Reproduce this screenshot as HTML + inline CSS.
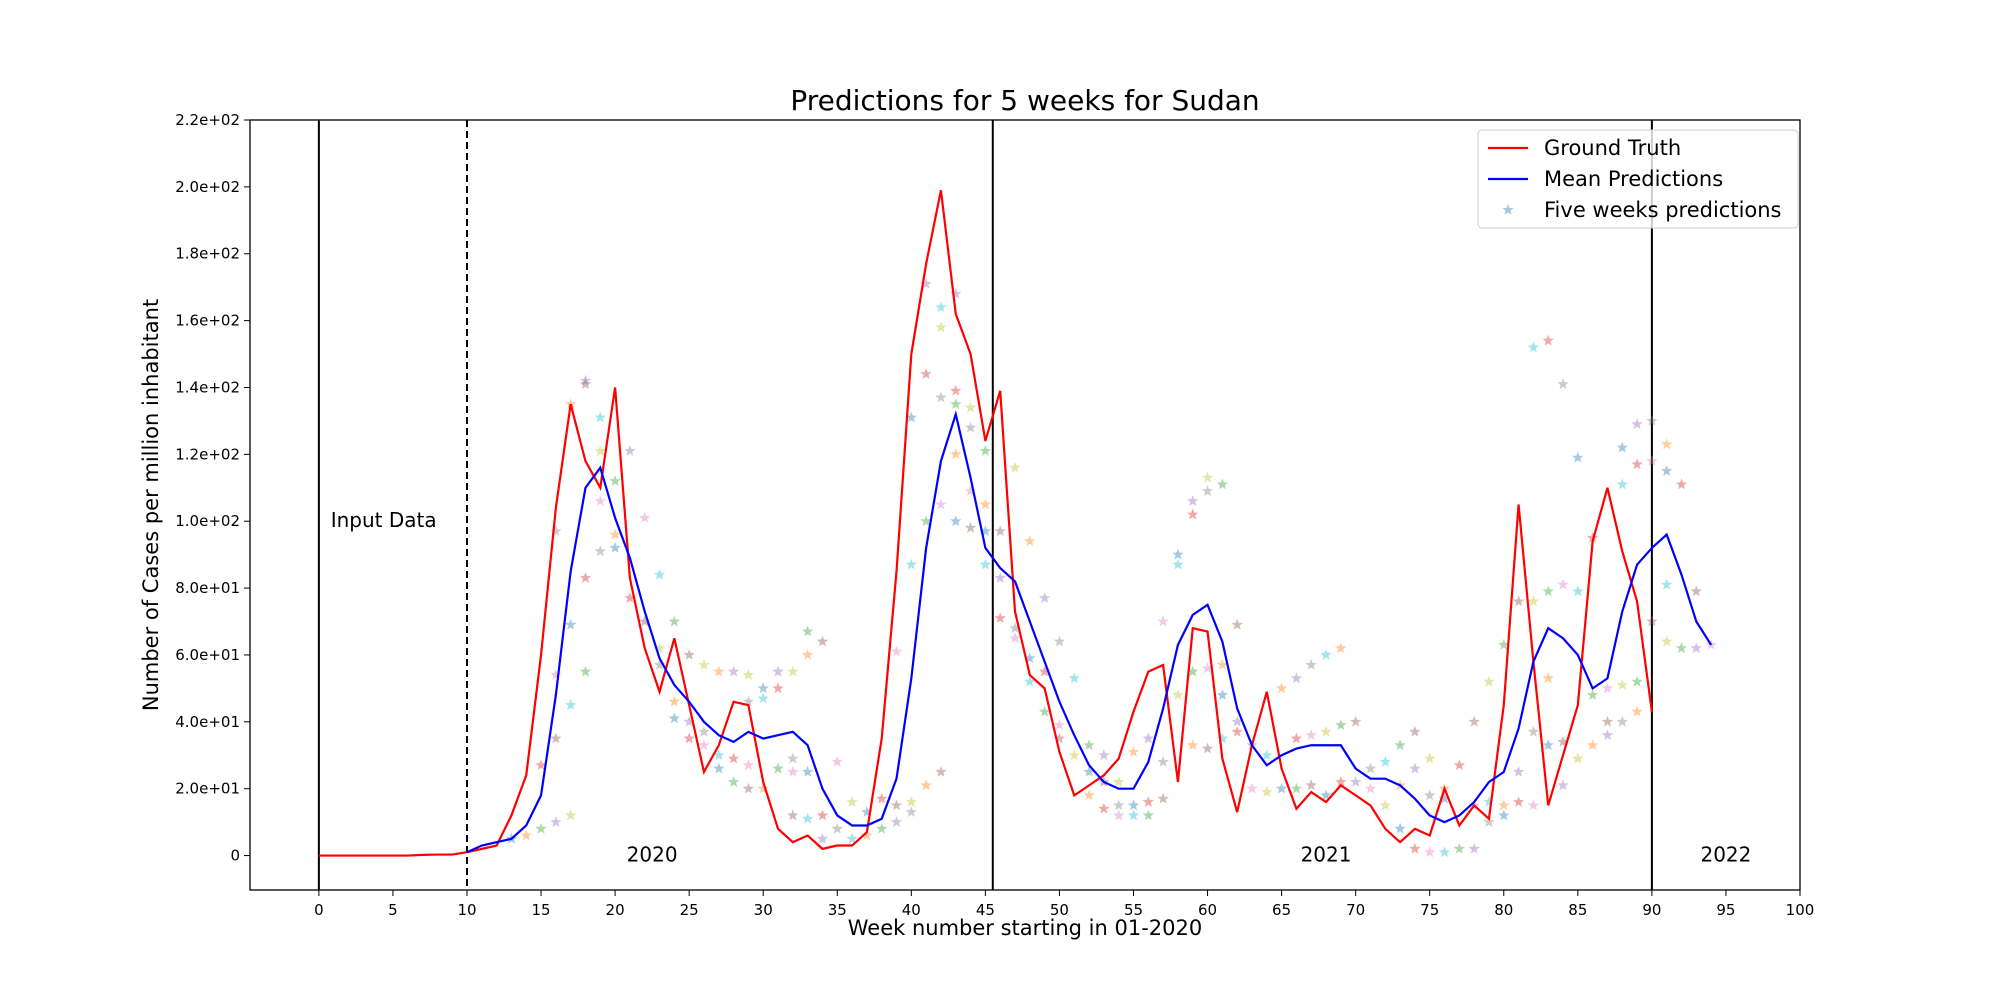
<!DOCTYPE html>
<html><head><meta charset="utf-8"><style>
html,body{margin:0;padding:0;background:#fff}
svg{display:block;font-family:"DejaVu Sans","Liberation Sans",sans-serif}
</style></head><body>
<svg id="chart" width="2000" height="1000" xmlns="http://www.w3.org/2000/svg">
<rect width="2000" height="1000" fill="#fff"/>
<text x="1025" y="110" text-anchor="middle" font-size="28">Predictions for 5 weeks for Sudan</text>
<text x="1025" y="935" text-anchor="middle" font-size="21">Week number starting in 01-2020</text>
<text transform="translate(158,505) rotate(-90)" text-anchor="middle" font-size="21">Number of Cases per million inhabitant</text>
<g id="plot"></g>
</svg>
<script>
const truthWeeks=[0,1,2,3,4,5,6,7,8,9,10,11,12,13,14,15,16,17,18,19,20,21,22,23,24,25,26,27,28,29,30,31,32,33,34,35,36,37,38,39,40,41,42,43,44,45,46,47,48,49,50,51,52,53,54,55,56,57,58,59,60,61,62,63,64,65,66,67,68,69,70,71,72,73,74,75,76,77,78,79,80,81,82,83,84,85,86,87,88,89,90];
const truthValues=[0,0,0,0,0,0,0,0.2,0.3,0.3,1,2,3,12,24,60,104,135,118,110,140,83,62,49,65,45,25,33,46,45,22,8,4,6,2,3,3,7,35,85,150,177,199,162,150,124,139,73,54,50,31,18,21,24,29,43,55,57,22,68,67,29,13,33,49,26,14,19,16,21,18,15,8,4,8,6,20,9,15,11,45,105,58,15,30,45,94,110,91,76,43];
const meanWeeks=[10,11,12,13,14,15,16,17,18,19,20,21,22,23,24,25,26,27,28,29,30,31,32,33,34,35,36,37,38,39,40,41,42,43,44,45,46,47,48,49,50,51,52,53,54,55,56,57,58,59,60,61,62,63,64,65,66,67,68,69,70,71,72,73,74,75,76,77,78,79,80,81,82,83,84,85,86,87,88,89,90,91,92,93,94];
const meanValues=[1,3,4,5,9,18,48,85,110,116,101,89,73,59,51,46,40,36,34,37,35,36,37,33,20,12,9,9,11,23,53,92,118,132,113,92,86,82,70,58,46,36,27,22,20,20,28,44,63,72,75,64,44,33,27,30,32,33,33,33,26,23,23,21,17,12,10,12,16,22,25,38,58,68,65,60,50,53,73,87,92,96,84,70,63];
const starWeeks=[13,14,15,15,16,16,16,16,17,17,17,17,18,18,18,18,19,19,19,19,20,20,20,21,21,22,22,23,23,23,24,24,24,25,25,25,26,26,26,27,27,27,28,28,28,29,29,29,29,30,30,30,31,31,31,32,32,32,32,33,33,33,33,34,34,34,35,35,36,36,37,37,38,38,39,39,39,40,40,40,40,41,41,41,41,42,42,42,42,42,43,43,43,43,43,44,44,44,44,45,45,45,45,46,46,46,47,47,47,48,48,48,49,49,49,50,50,50,51,51,52,52,52,53,53,53,54,54,54,55,55,55,56,56,56,57,57,57,58,58,58,59,59,59,59,60,60,60,60,61,61,61,61,62,62,62,63,63,64,64,65,65,66,66,66,67,67,67,68,68,68,69,69,69,70,70,71,71,72,72,73,73,73,74,74,74,75,75,75,76,76,76,77,77,78,78,78,79,79,79,80,80,80,81,81,81,82,82,82,82,83,83,83,83,84,84,84,84,85,85,85,86,86,86,87,87,87,88,88,88,88,89,89,89,89,90,90,90,91,91,91,91,92,92,93,93,94];
const starValues=[5,6,8,27,10,35,54,97,12,45,69,135,55,83,142,141,106,91,121,131,92,96,112,77,121,70,101,57,62,84,41,46,70,35,40,60,33,37,57,30,26,55,22,29,55,20,27,46,54,47,50,20,26,50,55,12,25,29,55,11,25,60,67,12,5,64,28,8,16,5,13,6,8,17,10,15,61,13,16,87,131,21,100,144,171,25,105,137,158,164,100,120,135,139,168,98,109,128,134,87,97,105,121,71,83,97,65,68,116,52,59,94,43,55,77,35,39,64,30,53,25,18,33,14,30,22,12,15,22,12,15,31,12,16,35,17,70,28,48,87,90,33,55,102,106,32,56,109,113,35,48,57,111,37,40,69,20,33,19,30,20,50,20,35,53,21,36,57,37,60,18,62,39,22,22,40,20,26,15,28,8,21,33,2,26,37,1,18,29,1,17,20,2,27,2,40,15,10,52,16,12,15,63,16,25,76,15,37,76,152,33,53,79,154,21,34,81,141,29,79,119,33,48,95,36,40,50,40,51,111,122,43,52,117,129,70,118,130,64,81,115,123,62,111,62,79,63];
const xTicks=[0,5,10,15,20,25,30,35,40,45,50,55,60,65,70,75,80,85,90,95,100];
const yTicks=[0,20,40,60,80,100,120,140,160,180,200,220];
const yTickLabels=["0","2.0e+01","4.0e+01","6.0e+01","8.0e+01","1.0e+02","1.2e+02","1.4e+02","1.6e+02","1.8e+02","2.0e+02","2.2e+02"];
const vlineWeeks=[0,45.5,90];
const yearLabels=["2020","2021","2022"];
const yearWeeks=[22.5,68,95];

const L=250,R=1800,T=120,B=890;
const xMin=-4.65,xMax=100,yMin=-10.3,yMax=220;
const X=v=>L+(v-xMin)/(xMax-xMin)*(R-L);
const Y=v=>B-(v-yMin)/(yMax-yMin)*(B-T);
const NS="http://www.w3.org/2000/svg";
const g=document.getElementById('plot');
function mk(tag,attrs,parent){const e=document.createElementNS(NS,tag);for(const k in attrs)e.setAttribute(k,attrs[k]);(parent||g).appendChild(e);return e;}
const tab=["#1f77b4","#ff7f0e","#2ca02c","#d62728","#9467bd","#8c564b","#e377c2","#7f7f7f","#bcbd22","#17becf"];

xTicks.forEach(t=>{
  const l=mk('line',{x1:X(t),x2:X(t),y1:B,y2:B+6,stroke:'#000','stroke-width':1});
  
  
  const tx=mk('text',{x:X(t),y:B+25,'text-anchor':'middle','font-size':15});
  
  
  tx.textContent=t;
});
yTicks.forEach((t,i)=>{
  const l=mk('line',{x1:L-6,x2:L,y1:Y(t),y2:Y(t),stroke:'#000','stroke-width':1});
  
  
  const tx=mk('text',{x:L-10,y:Y(t)+5,'text-anchor':'end','font-size':15});
  
  
  tx.textContent=yTickLabels[i];
});

vlineWeeks.forEach(w=>{
  const l=mk('line',{x1:X(w),x2:X(w),y1:T,y2:B,stroke:'#000','stroke-width':2});
  
  
});
const dl=mk('line',{x1:X(10),x2:X(10),y1:T,y2:B,stroke:'#000','stroke-width':2,'stroke-dasharray':'7,4'});



function starPath(cx,cy,r){let p='';for(let k=0;k<10;k++){const a=-Math.PI/2+k*Math.PI/5;const rr=k%2?r*0.42:r;p+=(k?'L':'M')+(cx+rr*Math.cos(a)).toFixed(1)+','+(cy+rr*Math.sin(a)).toFixed(1);}return p+'Z';}
starWeeks.forEach((w,i)=>{
  const s=mk('path',{d:starPath(X(w),Y(starValues[i]),6),fill:tab[i%10],'fill-opacity':0.4});
  
  
});

const tp=mk('polyline',{points:truthWeeks.map((w,i)=>X(w)+','+Y(truthValues[i])).join(' '),fill:'none',stroke:'#ff0000','stroke-width':2.2});


const mp=mk('polyline',{points:meanWeeks.map((w,i)=>X(w)+','+Y(meanValues[i])).join(' '),fill:'none',stroke:'#0000ff','stroke-width':2.2});



const it=mk('text',{x:X(0.8),y:Y(100)+6,'font-size':20});


it.textContent='Input Data';
yearLabels.forEach((y,i)=>{
  const t=mk('text',{x:X(yearWeeks[i]),y:Y(0)+6,'text-anchor':'middle','font-size':20});
  
  
  t.textContent=y;
});

const fr=mk('rect',{x:L,y:T,width:R-L,height:B-T,fill:'none',stroke:'#000','stroke-width':1.3});



const lg=mk('g',{});


mk('rect',{x:1478,y:130,width:320,height:98,rx:4,fill:'#fff','fill-opacity':0.8,stroke:'#ccc'},lg);
const items=[['Ground Truth','#ff0000','line'],['Mean Predictions','#0000ff','line'],['Five weeks predictions','#1f77b4','star']];
items.forEach((it,i)=>{
  const yy=148+i*31;
  const e=mk('g',{},lg);
  
  
  if(it[2]==='line') mk('line',{x1:1488,x2:1528,y1:yy,y2:yy,stroke:it[1],'stroke-width':2.2},e);
  else mk('path',{d:starPath(1508,yy,6),fill:it[1],'fill-opacity':0.4},e);
  const t=mk('text',{x:1544,y:yy+7,'font-size':21},e);
  t.textContent=it[0];
});
</script>
</body></html>
